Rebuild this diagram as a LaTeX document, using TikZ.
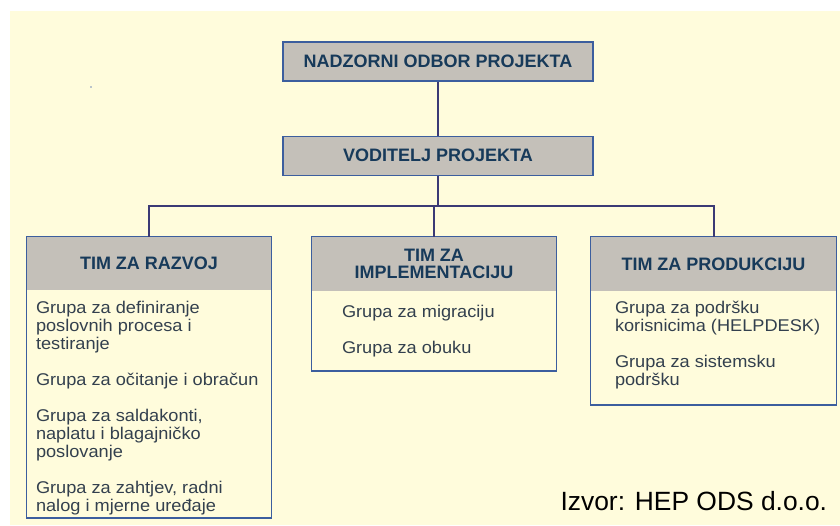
\documentclass[tikz,border=0pt]{standalone}
\usepackage{fontspec}
\setmainfont{Liberation Sans}
\newfontfamily\bodyfont[FakeStretch=1.07]{Liberation Sans}
\usepackage{tikz}
\usetikzlibrary{positioning,fit}
\definecolor{cream}{HTML}{FFFCDC}
\definecolor{headgray}{HTML}{C4C0B9}
\definecolor{frameblue}{HTML}{3C5E9E}
\definecolor{conncol}{HTML}{3B3A75}
\definecolor{headtext}{HTML}{173A5A}
\definecolor{bodytext}{HTML}{33404E}
\tikzstyle{topbox}=[rectangle,draw=frameblue,fill=headgray,line width=1.3pt,minimum width=310pt,minimum height=39pt,inner sep=0pt,text=headtext,font=\fontsize{18pt}{17pt}\selectfont\bfseries]
\tikzstyle{teamhead}=[rectangle,fill=headgray,minimum width=244pt,minimum height=53pt,inner sep=0pt,align=center,text=headtext,font=\fontsize{18pt}{17pt}\selectfont\bfseries]
\tikzstyle{teamtext}=[inner sep=0pt,align=left,text=bodytext,font=\bodyfont\fontsize{17pt}{18pt}\selectfont]
\tikzstyle{teamframe}=[rectangle,draw=frameblue,line width=1.3pt,inner sep=0pt]
\tikzstyle{conn}=[draw=conncol,line width=2pt]

\begin{document}
\begin{tikzpicture}[x=1pt,y=-1pt]
    \useasboundingbox (0,0) rectangle (840,525);
    \fill[cream] (10,11) rectangle (840,525);
    \fill[frameblue!70] (91,87) circle (0.9pt);

    % Kutije
    \node[topbox] (nad) at (438,61.5) {NADZORNI ODBOR PROJEKTA};
    \node[topbox, below=54pt of nad] (vod) {VODITELJ PROJEKTA};

    \node[teamhead] (razH) at (149,263.5) {TIM ZA RAZVOJ};
    \node[teamhead, minimum width=244pt, minimum height=54pt] (implH) at (434,264) {TIM ZA\\IMPLEMENTACIJU};
    \node[teamhead, minimum width=245pt, minimum height=54pt] (prodH) at (713.5,264) {TIM ZA PRODUKCIJU};

    \node[teamtext, anchor=north west, below right=10.5pt and 9pt of razH.south west] (razB)
        {Grupa za definiranje\\poslovnih procesa i\\testiranje\\[18pt]
         Grupa za očitanje i obračun\\[18pt]
         Grupa za saldakonti,\\naplatu i blagajničko\\poslovanje\\[18pt]
         Grupa za zahtjev, radni\\nalog i mjerne uređaje};
    \node[teamtext, anchor=north west, below right=13.5pt and 30pt of implH.south west] (implB)
        {Grupa za migraciju\\[18pt]
         Grupa za obuku};
    \node[teamtext, anchor=north west, below right=9.5pt and 24pt of prodH.south west] (prodB)
        {Grupa za podršku\\korisnicima (HELPDESK)\\[18pt]
         Grupa za sistemsku\\podršku};

    \coordinate (razEnd) at (149,518);
    \coordinate (implEnd) at (434,371);
    \coordinate (prodEnd) at (713.5,405);
    \node[teamframe, fit=(razH)(razEnd)] (raz) {};
    \node[teamframe, fit=(implH)(implEnd)] (impl) {};
    \node[teamframe, fit=(prodH)(prodEnd)] (prod) {};

    \node[anchor=base west, font=\fontsize{26.4pt}{28pt}\selectfont] (izvor) at (557,510) {Izvor: HEP ODS d.o.o.};

    % Veze
    \coordinate (bus) at (438,206);
    \draw[conn] (nad) -- (vod);
    \draw[conn] (vod) -- (bus);
    \draw[conn] (razH.north) |- (bus) -| (prodH.north);
    \draw[conn] (bus -| implH.north) -- (implH.north);

\end{tikzpicture}
\end{document}
